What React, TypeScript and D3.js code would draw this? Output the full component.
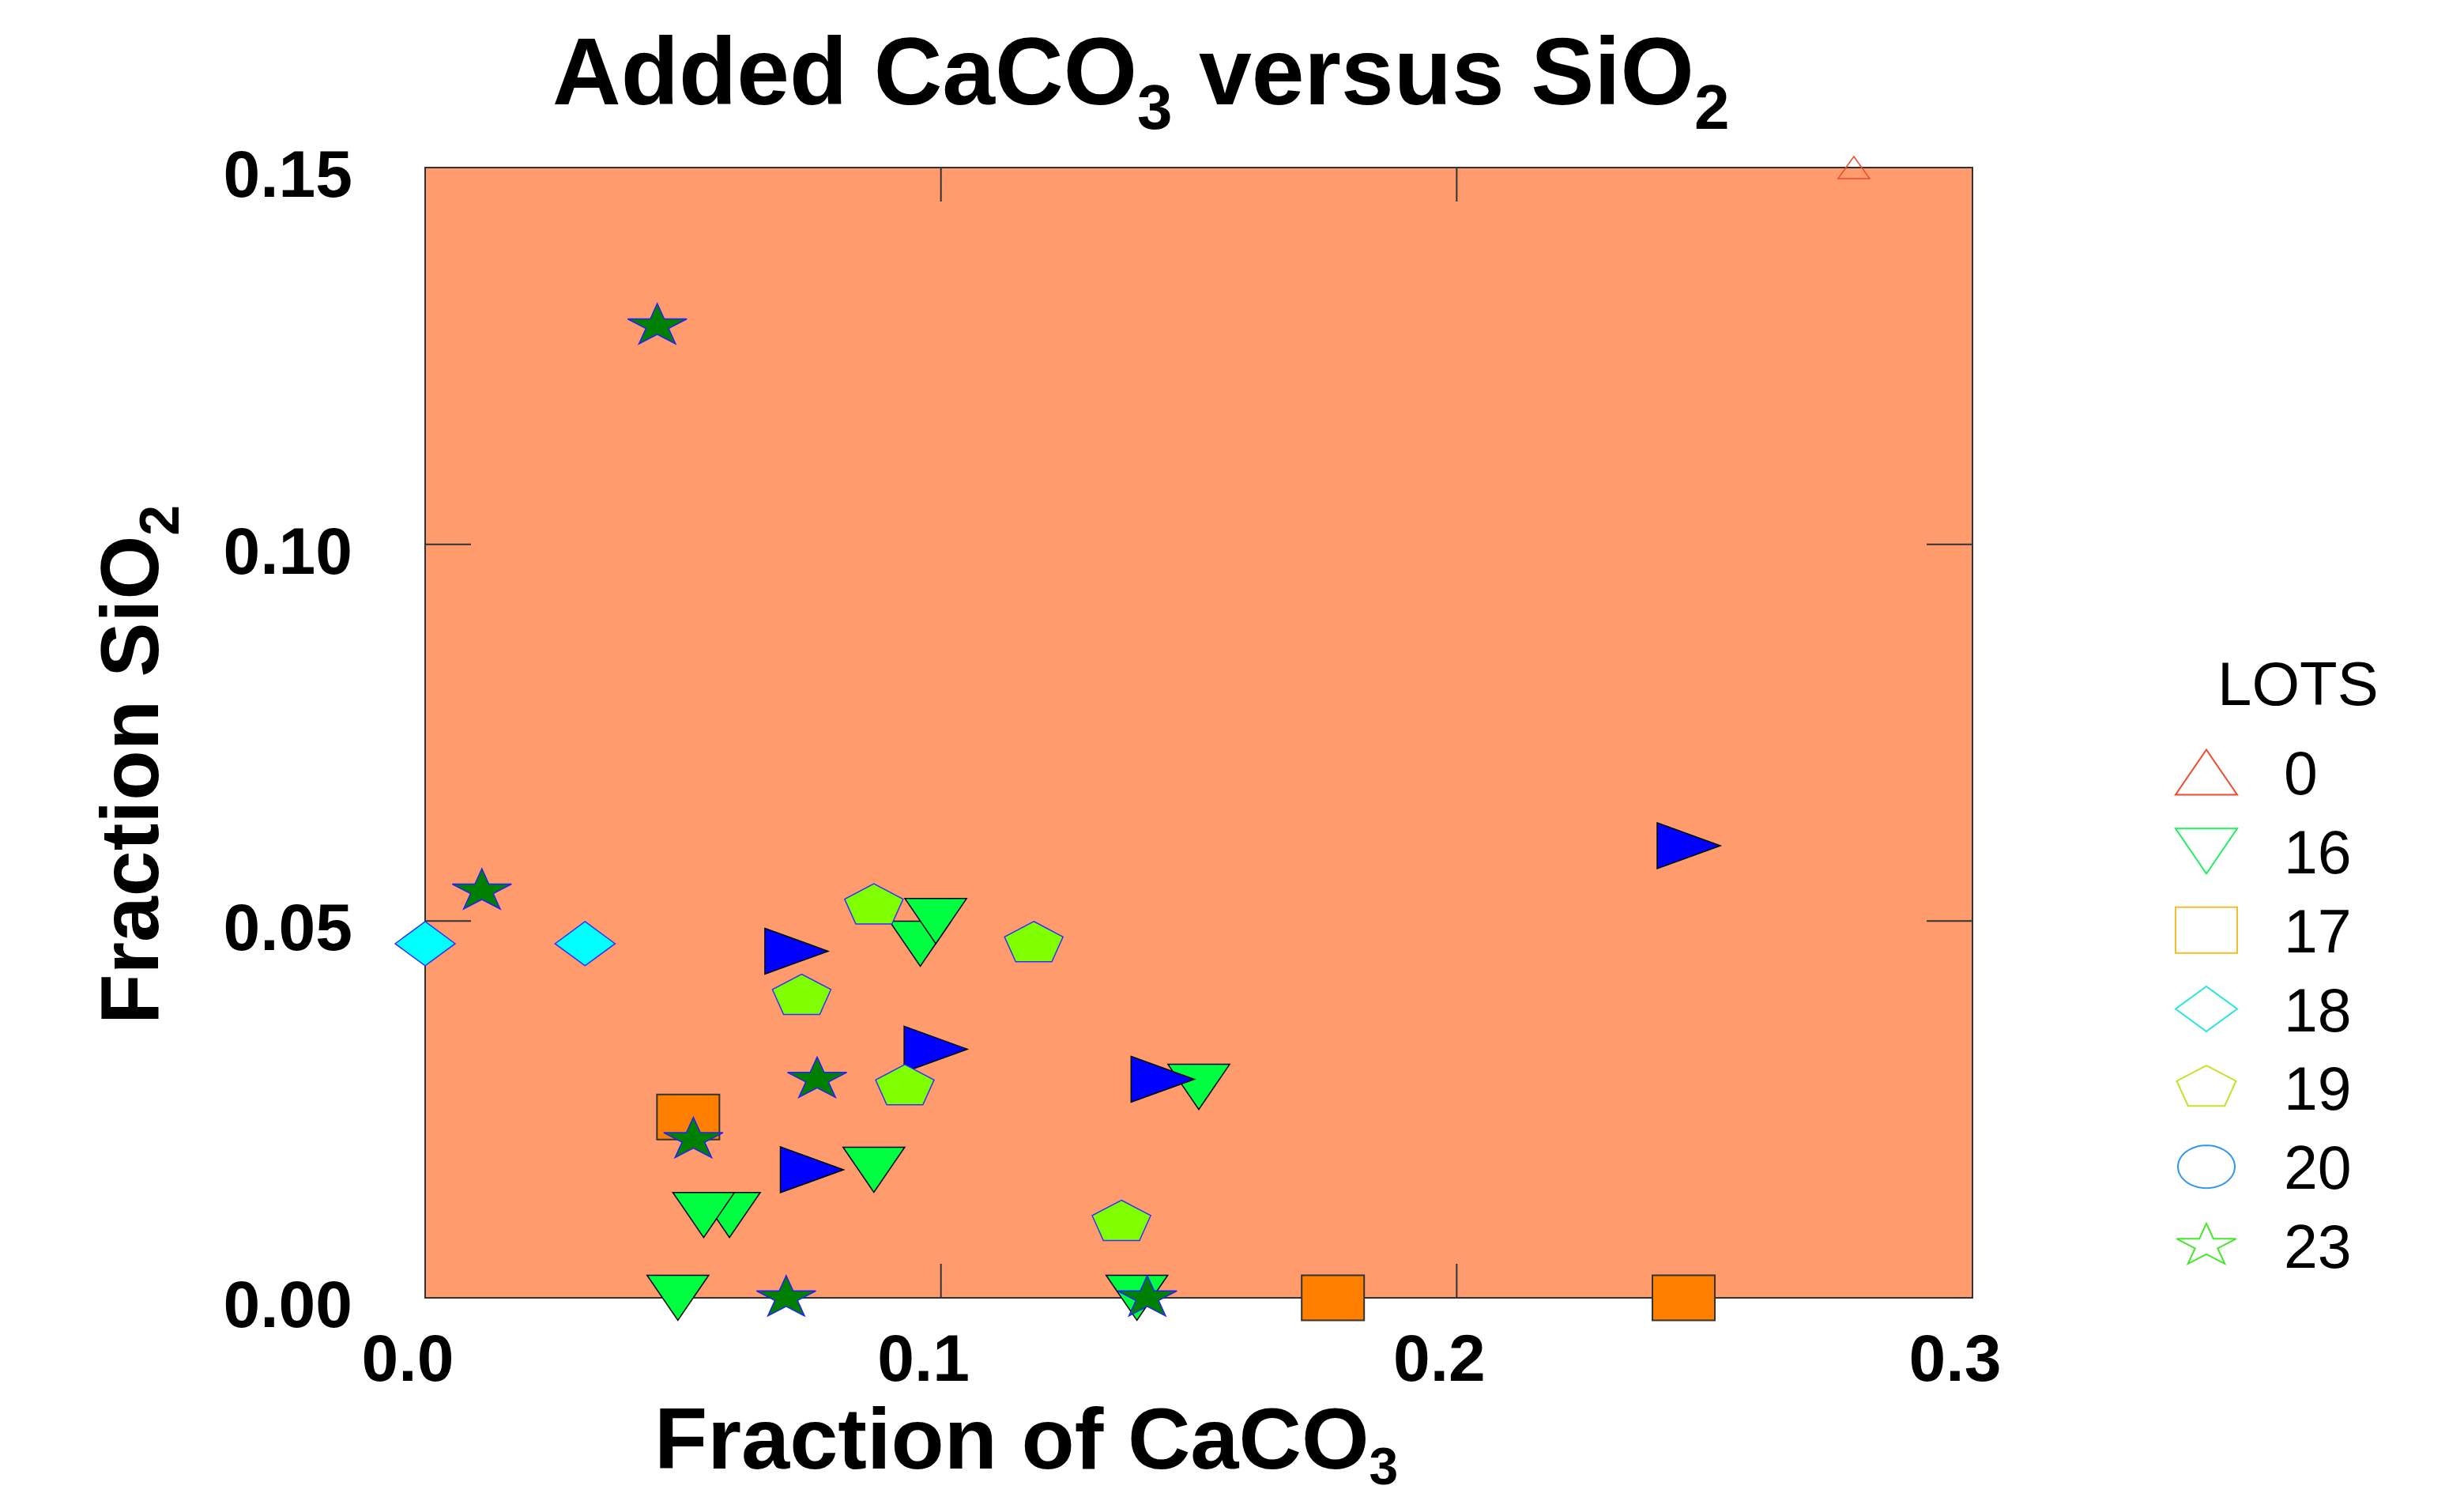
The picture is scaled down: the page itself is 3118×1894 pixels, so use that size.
import React, { useEffect } from "react";
import * as d3 from "d3";

// ---------- data ----------
const lotNames = ["0", "16", "17", "18", "19", "20", "23"];

const lot0X = [0.277];
const lot0Y = [0.15];

const lot16X = [0.059, 0.054, 0.049, 0.087, 0.096, 0.099, 0.150, 0.138];
const lot16Y = [0.011, 0.011, 0.000, 0.017, 0.047, 0.050, 0.028, 0.000];

const lot17X = [0.051, 0.176, 0.244];
const lot17Y = [0.024, 0.0, 0.0];

const lot18X = [0.0, 0.031];
const lot18Y = [0.047, 0.047];

const lot20X = [0.072, 0.099, 0.075, 0.143, 0.245];
const lot20Y = [0.046, 0.033, 0.017, 0.029, 0.060];

const lot19X = [0.087, 0.073, 0.093, 0.118, 0.135];
const lot19Y = [0.052, 0.040, 0.028, 0.047, 0.010];

const lot23X = [0.045, 0.011, 0.076, 0.052, 0.070, 0.140];
const lot23Y = [0.129, 0.054, 0.029, 0.021, 0.0, 0.0];

const xTicks = [0.0, 0.1, 0.2, 0.3];
const yTicks = [0.0, 0.05, 0.1, 0.15];

// ---------- styles ----------
const FONT = "'Liberation Sans', Arial, Helvetica, sans-serif";
const W = 3118;
const H = 1894;
const BG = "#FF9B6C";

type Shape = "up" | "down" | "right" | "square" | "diamond" | "pentagon" | "star" | "ellipse";

function shapePath(shape: Shape, w: number, h: number): string {
  const p = d3.path();
  const poly = (pts: [number, number][]) => {
    pts.forEach(([a, b], i) => (i === 0 ? p.moveTo(a, b) : p.lineTo(a, b)));
    p.closePath();
  };
  if (shape === "up") poly([[0, -h / 2], [w / 2, h / 2], [-w / 2, h / 2]]);
  else if (shape === "down") poly([[-w / 2, -h / 2], [w / 2, -h / 2], [0, h / 2]]);
  else if (shape === "right") poly([[-w / 2, -h / 2], [w / 2, 0], [-w / 2, h / 2]]);
  else if (shape === "square") poly([[-w / 2, -h / 2], [w / 2, -h / 2], [w / 2, h / 2], [-w / 2, h / 2]]);
  else if (shape === "diamond") poly([[0, -h / 2], [w / 2, 0], [0, h / 2], [-w / 2, 0]]);
  else if (shape === "pentagon") {
    const rx = w / 1.902, ry = h / 1.809;
    const pts: [number, number][] = d3.range(5).map((k) => {
      const a = -Math.PI / 2 + (k * 2 * Math.PI) / 5;
      return [rx * Math.cos(a), ry * Math.sin(a)];
    });
    poly(pts);
  } else if (shape === "star") {
    const rx = w / 1.902, ry = h / 1.809;
    const pts: [number, number][] = d3.range(10).map((k) => {
      const a = -Math.PI / 2 + (k * Math.PI) / 5;
      const f = k % 2 === 0 ? 1 : 0.382;
      return [rx * f * Math.cos(a), ry * f * Math.sin(a)];
    });
    poly(pts);
  } else if (shape === "ellipse") {
    const pts: [number, number][] = d3.range(72).map((k) => {
      const a = (k * 2 * Math.PI) / 72;
      return [(w / 2) * Math.cos(a), (h / 2) * Math.sin(a)];
    });
    poly(pts);
  }
  return p.toString();
}

const series = [
  { xs: lot0X, ys: lot0Y, shape: "up" as Shape, w: 40, h: 28, fill: "none", stroke: "#F04A26", sw: 1.5 },
  { xs: lot16X, ys: lot16Y, shape: "down" as Shape, w: 78, h: 57, fill: "#00FF40", stroke: "#000000", sw: 1.5 },
  { xs: lot17X, ys: lot17Y, shape: "square" as Shape, w: 79, h: 57, fill: "#FF8000", stroke: "#333333", sw: 2 },
  { xs: lot18X, ys: lot18Y, shape: "diamond" as Shape, w: 76, h: 56, fill: "#00FFFF", stroke: "#3030FF", sw: 1.5 },
  { xs: lot20X, ys: lot20Y, shape: "right" as Shape, w: 80, h: 58, fill: "#0000FF", stroke: "#000000", sw: 1.5 },
  { xs: lot19X, ys: lot19Y, shape: "pentagon" as Shape, w: 74, h: 51, fill: "#80FF00", stroke: "#3030FF", sw: 1.5 },
  { xs: lot23X, ys: lot23Y, shape: "star" as Shape, w: 75, h: 51, fill: "#008000", stroke: "#2020FF", sw: 1.5 },
];

const legendShapes: { shape: Shape; w: number; h: number; color: string }[] = [
  { shape: "up", w: 78, h: 57, color: "#F04A26" },
  { shape: "down", w: 78, h: 57, color: "#1EF060" },
  { shape: "square", w: 78, h: 58, color: "#F0BE30" },
  { shape: "diamond", w: 78, h: 57, color: "#28E6DC" },
  { shape: "pentagon", w: 75, h: 51, color: "#BEE628" },
  { shape: "ellipse", w: 72, h: 54, color: "#3296F0" },
  { shape: "star", w: 75, h: 51, color: "#46E628" },
];

export default function App() {
  useEffect(() => {
    document.body.style.margin = "0";
  }, []);

  const x = d3.scaleLinear().domain([0, 0.3]).range([538, 2496]);
  const y = d3.scaleLinear().domain([0, 0.15]).range([1642, 212]);
  const [x0, x1] = x.range();
  const [yb, yt] = y.range();

  const xTickLen = 43;
  const yTickLen = 58;

  const legendY = d3.scalePoint<string>().domain(lotNames).range([977, 1576]);
  const legendMarkerX = 2792;
  const legendTextX = 2890;

  return (
    <svg
      width={W}
      height={H}
      viewBox={`0 0 ${W} ${H}`}
      style={{ position: "absolute", left: 0, top: 0, display: "block", background: "#fff" }}
      fontFamily={FONT}
    >
      <rect x={0} y={0} width={W} height={H} fill="#ffffff" />
      {/* plot background */}
      <rect x={x0} y={yt} width={x1 - x0} height={yb - yt} fill={BG} />

      {/* ticks */}
      <g stroke="#333" strokeWidth={2}>
        {xTicks.map((t) => (
          <g key={"xt" + t}>
            <line x1={x(t)} x2={x(t)} y1={yb} y2={yb - xTickLen} />
            <line x1={x(t)} x2={x(t)} y1={yt} y2={yt + xTickLen} />
          </g>
        ))}
        {yTicks.map((t) => (
          <g key={"yt" + t}>
            <line x1={x0} x2={x0 + yTickLen} y1={y(t)} y2={y(t)} />
            <line x1={x1} x2={x1 - yTickLen} y1={y(t)} y2={y(t)} />
          </g>
        ))}
      </g>
      {/* frame */}
      <rect x={x0} y={yt} width={x1 - x0} height={yb - yt} fill="none" stroke="#333" strokeWidth={2} />

      {/* tick labels */}
      <g fontSize={84} fontWeight="bold" fill="#000">
        {xTicks.map((t) => (
          <text key={"xl" + t} x={x(t) - 22} y={1747} textAnchor="middle">
            {d3.format(".1f")(t)}
          </text>
        ))}
        {yTicks.map((t) => (
          <text key={"yl" + t} x={446} y={y(t) + 37} textAnchor="end">
            {d3.format(".2f")(t)}
          </text>
        ))}
      </g>

      {/* markers */}
      {series.map((s, si) => (
        <g key={"s" + si}>
          {s.xs.map((vx, i) => (
            <path
              key={i}
              d={shapePath(s.shape, s.w, s.h)}
              transform={`translate(${x(vx)},${y(s.ys[i])})`}
              fill={s.fill}
              stroke={s.stroke}
              strokeWidth={s.sw}
              strokeLinejoin="miter"
            />
          ))}
        </g>
      ))}

      {/* title */}
      <text x={699} y={132} fontSize={120} fontWeight="bold" fill="#000">
        Added CaCO
        <tspan fontSize={80} dy={31}>3</tspan>
        <tspan fontSize={120} dy={-31}> versus SiO</tspan>
        <tspan fontSize={80} dy={31}>2</tspan>
      </text>

      {/* x axis label */}
      <text x={828} y={1858} fontSize={110} fontWeight="bold" fill="#000">
        Fraction of CaCO
        <tspan fontSize={66} dy={20}>3</tspan>
      </text>

      {/* y axis label */}
      <text transform="translate(200,1296) rotate(-90)" fontSize={104} fontWeight="bold" fill="#000">
        Fraction SiO
        <tspan fontSize={70} dy={26}>2</tspan>
      </text>

      {/* legend */}
      <text x={2806} y={892} fontSize={78} fill="#000">
        LOTS
      </text>
      {lotNames.map((name, i) => {
        const ls = legendShapes[i];
        const cy = legendY(name) as number;
        return (
          <g key={"lg" + name}>
            <path
              d={shapePath(ls.shape, ls.w, ls.h)}
              transform={`translate(${legendMarkerX},${cy})`}
              fill="none"
              stroke={ls.color}
              strokeWidth={2}
            />
            <text x={legendTextX} y={cy + 28} fontSize={77} fill="#000">
              {name}
            </text>
          </g>
        );
      })}
    </svg>
  );
}
